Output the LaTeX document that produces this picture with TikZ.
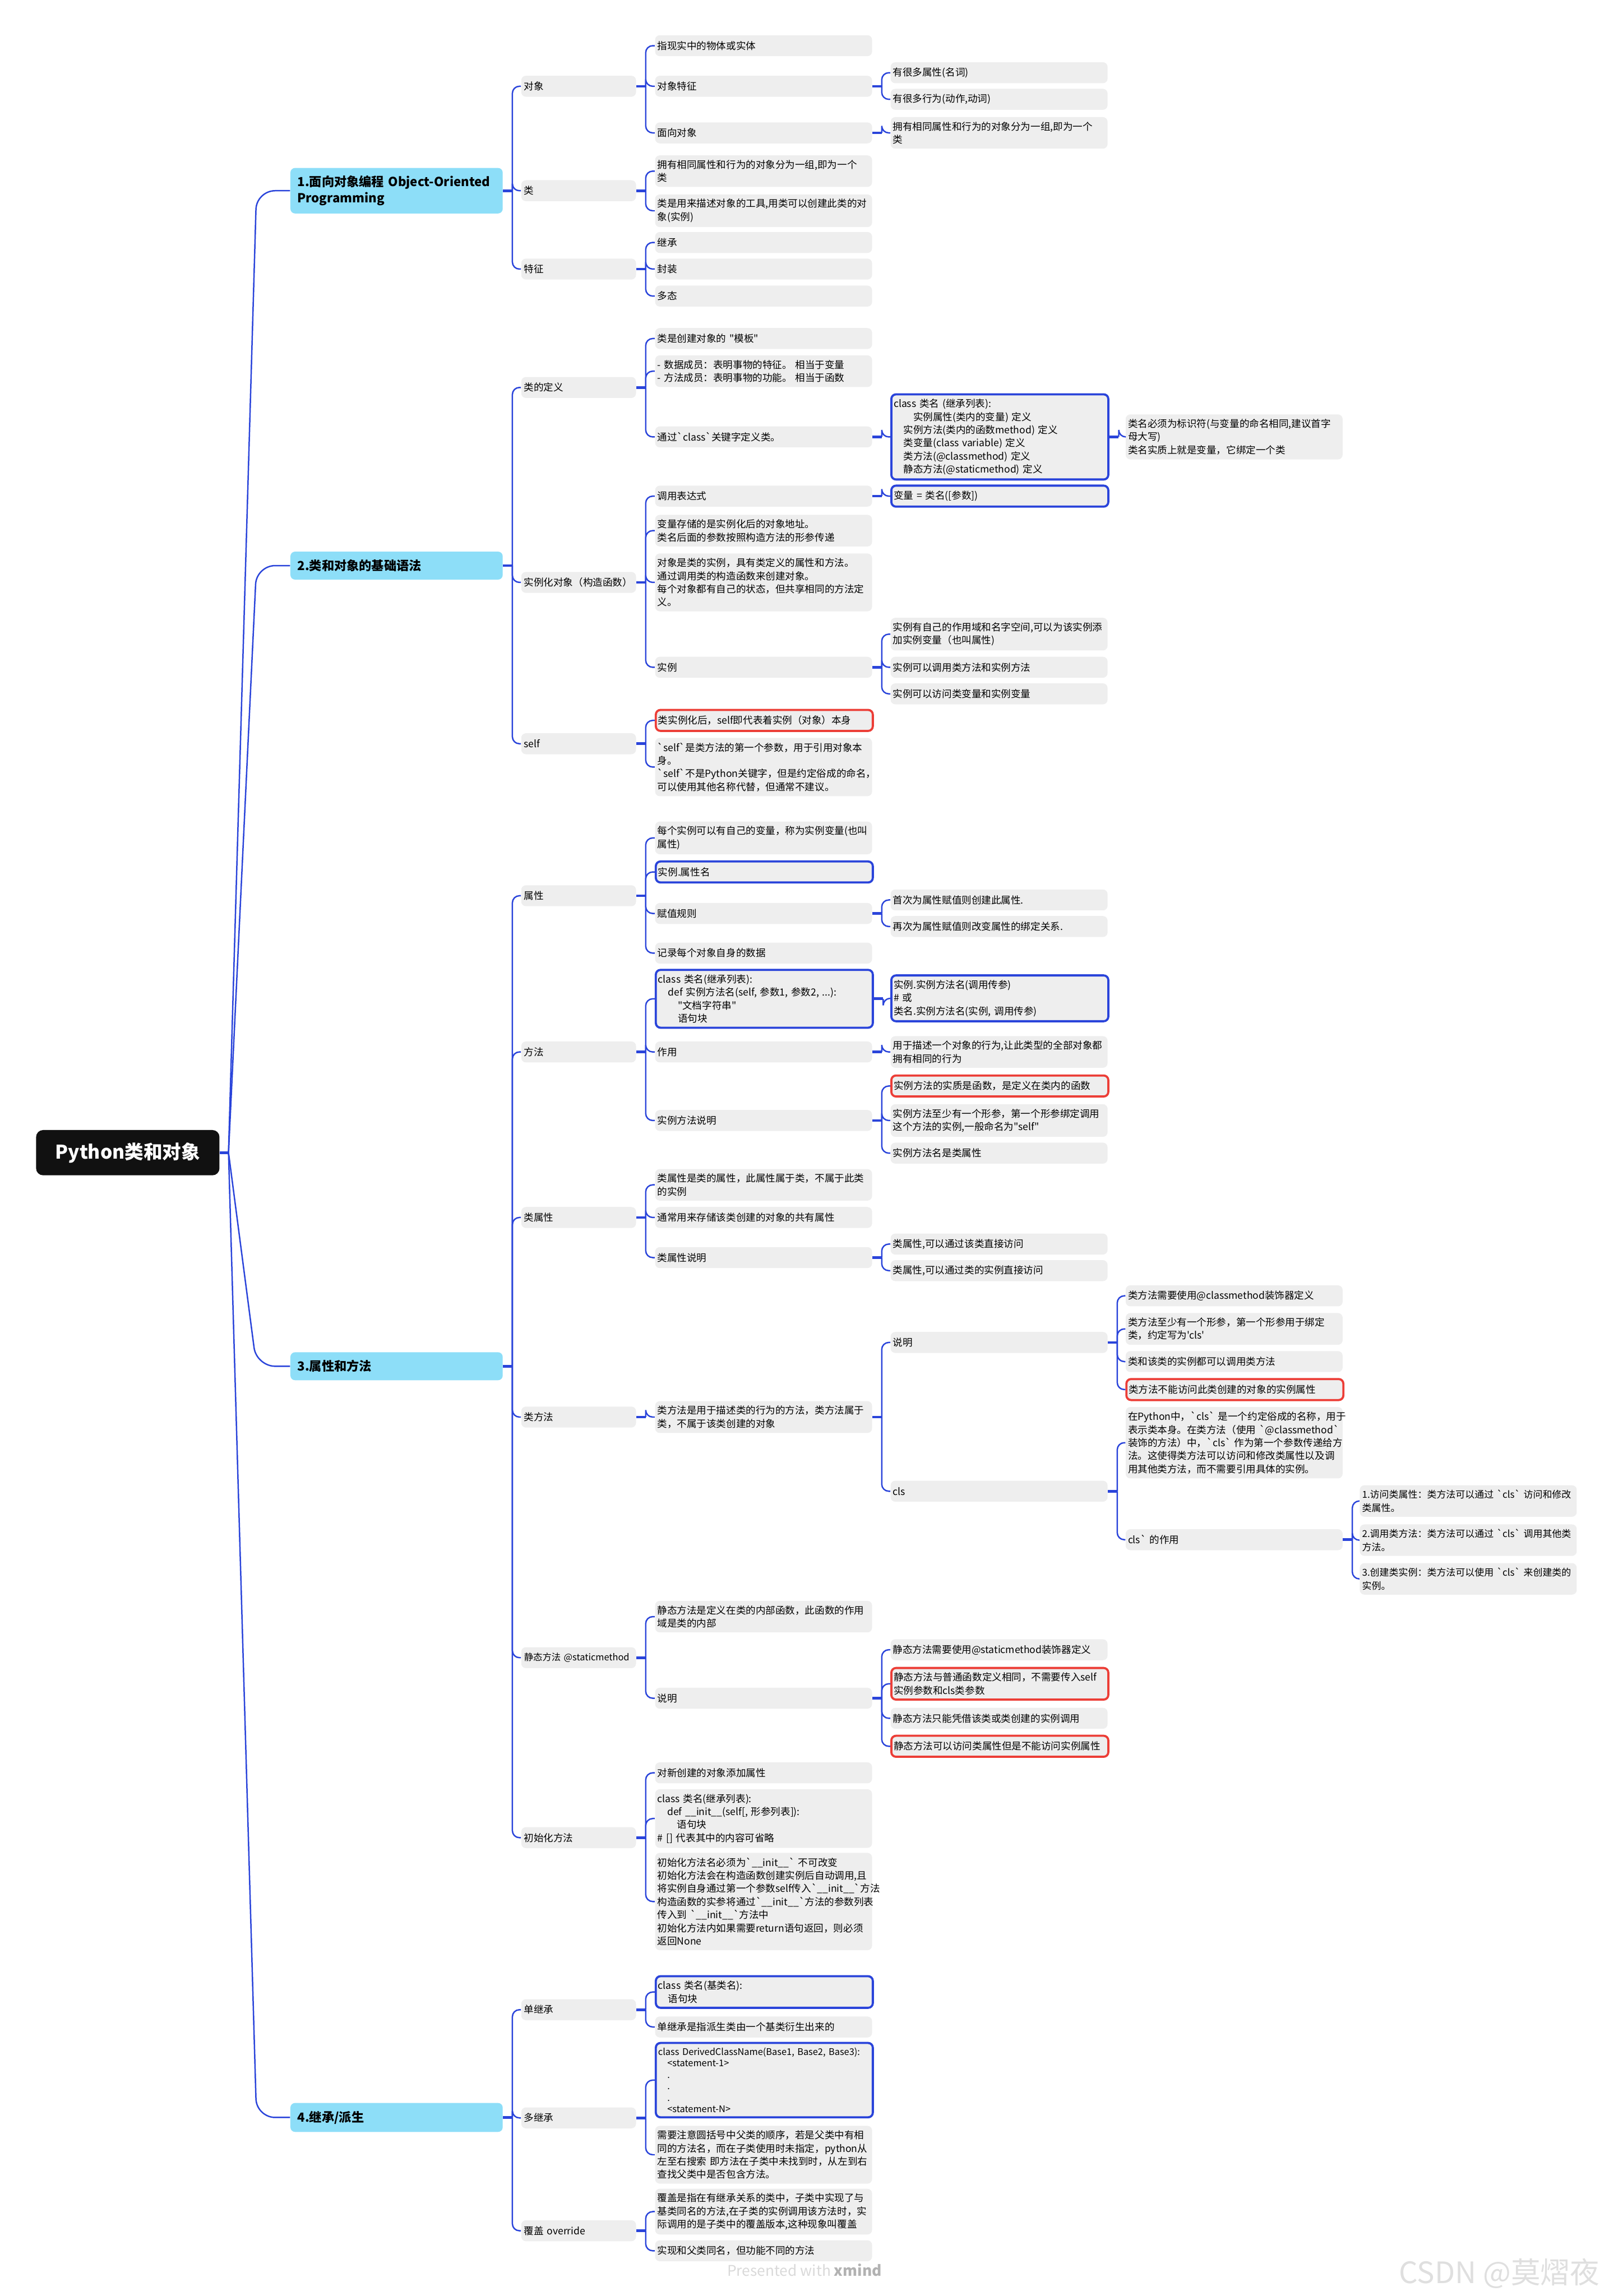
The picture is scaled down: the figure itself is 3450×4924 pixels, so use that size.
\documentclass[tikz,border=0pt]{standalone}
\usepackage{fontspec}
\setmainfont{Noto Sans CJK SC}[Ligatures=TeXOff]
\usepackage{tikz}
\definecolor{linkblue}{RGB}{42,68,218}
\definecolor{boxgray}{RGB}{238,238,238}
\definecolor{seccyan}{RGB}{141,222,248}
\definecolor{warnred}{RGB}{236,62,55}
\definecolor{rootblack}{RGB}{17,17,17}
\newcommand{\bq}{\symbol{96}}
\hyphenpenalty=10000
\exhyphenpenalty=10000

\begin{document}
\begin{tikzpicture}[x=0.01cm, y=-0.01cm,
    rootnode/.style={fill=rootblack, text=white, rounded corners=0.15cm, minimum width=3.93cm, minimum height=0.97cm, font=\fontsize{11.5}{13}\selectfont\bfseries},
    topic/.style={anchor=west, fill=seccyan, rounded corners=0.1cm, text width=4.25cm, inner xsep=0.15cm, inner ysep=0.17cm, minimum height=0.6cm, align=left, font=\fontsize{7.6}{9.7}\selectfont\bfseries},
    subtopic/.style={anchor=west, fill=boxgray, rounded corners=0.1cm, text width=2.34cm, inner xsep=0.06cm, inner ysep=0.1cm, minimum height=0.45cm, align=left, font=\fontsize{6}{8}\selectfont},
    leaf/.style={subtopic, text width=4.55cm, inner xsep=0.05cm},
    bluebox/.style={draw=linkblue, line width=1.3pt},
    redbox/.style={draw=warnred, line width=1.3pt},
    link/.style={draw=linkblue, line width=0.85pt, rounded corners=0.15cm},
    stub/.style={draw=linkblue, line width=1.6pt}
]
    \useasboundingbox (0,0) rectangle (3450,4924);

    \node[rootnode] (root) at (274,2472) {Python类和对象};
    \coordinate (rj) at (490,2472);
    \coordinate (rx) at (550,0);

    \node[topic] (s1) at (622,409) {1.面向对象编程~Object-Oriented\\Programming};
    \node[topic] (s2) at (622,1213) {2.类和对象的基础语法};
    \node[topic] (s3) at (622,2930) {3.属性和方法};
    \node[topic] (s4) at (622,4541) {4.继承/派生};

    % 1. object oriented
    \node[subtopic] (dx) at (1117,185) {对象};
    \node[subtopic] (lei) at (1117,409) {类};
    \node[subtopic] (tz) at (1117,577) {特征};
    \node[leaf] (dx1) at (1404,98) {指现实中的物体或实体};
    \node[leaf] (dx2) at (1404,185) {对象特征};
    \node[leaf] (dx3) at (1404,285) {面向对象};
    \node[leaf] (dx21) at (1909,156) {有很多属性(名词)};
    \node[leaf] (dx22) at (1909,213) {有很多行为(动作,动词)};
    \node[leaf] (dx31) at (1909,285) {拥有相同属性和行为的对象分为一组,即为一个\\类};
    \node[leaf] (lei1) at (1404,367) {拥有相同属性和行为的对象分为一组,即为一个\\类};
    \node[leaf] (lei2) at (1404,452) {类是用来描述对象的工具,用类可以创建此类的对\\象(实例)};
    \node[leaf] (tz1) at (1404,520) {继承};
    \node[leaf] (tz2) at (1404,577) {封装};
    \node[leaf] (tz3) at (1404,635) {多态};

    % 2. basic syntax
    \node[subtopic] (dy) at (1117,831) {类的定义};
    \node[subtopic] (sl) at (1117,1249) {实例化对象（构造函数）};
    \node[subtopic] (sf) at (1117,1595) {self};
    \node[leaf] (dy1) at (1404,726) {类是创建对象的 "模板"};
    \node[leaf] (dy2) at (1404,796) {-~数据成员：表明事物的特征。~相当于变量\\-~方法成员：表明事物的功能。~相当于函数};
    \node[leaf] (dy3) at (1404,937) {通过\bq class\bq 关键字定义类。};
    \node[leaf, bluebox] (dy31) at (1909,937) {class 类名 (继承列表):\\\hspace*{2em}实例属性(类内的变量) 定义\\\hspace*{1em}实例方法(类内的函数method) 定义\\\hspace*{1em}类变量(class variable) 定义\\\hspace*{1em}类方法(@classmethod) 定义\\\hspace*{1em}静态方法(@staticmethod) 定义};
    \node[leaf] (dy311) at (2413,937) {类名必须为标识符(与变量的命名相同,建议首字\\母大写)\\类名实质上就是变量，它绑定一个类};
    \node[leaf] (sl1) at (1404,1064) {调用表达式};
    \node[leaf, bluebox] (sl11) at (1909,1064) {变量 = 类名([参数])};
    \node[leaf] (sl2) at (1404,1138) {变量存储的是实例化后的对象地址。\\类名后面的参数按照构造方法的形参传递};
    \node[leaf] (sl3) at (1404,1249) {对象是类的实例，具有类定义的属性和方法。\\通过调用类的构造函数来创建对象。\\每个对象都有自己的状态，但共享相同的方法定\\义。};
    \node[leaf] (sl4) at (1404,1431) {实例};
    \node[leaf] (sl41) at (1909,1360) {实例有自己的作用域和名字空间,可以为该实例添\\加实例变量（也叫属性)};
    \node[leaf] (sl42) at (1909,1431) {实例可以调用类方法和实例方法};
    \node[leaf] (sl43) at (1909,1488) {实例可以访问类变量和实例变量};
    \node[leaf, redbox] (sf1) at (1404,1545) {类实例化后，self即代表着实例（对象）本身};
    \node[leaf] (sf2) at (1404,1645) {\bq self\bq 是类方法的第一个参数，用于引用对象本\\身。\\\bq self\bq 不是Python关键字，但是约定俗成的命名，\\可以使用其他名称代替，但通常不建议。};

    % 3. attributes and methods
    \node[subtopic] (sx) at (1117,1921) {属性};
    \node[subtopic] (ff) at (1117,2256) {方法};
    \node[subtopic] (lsx) at (1117,2611) {类属性};
    \node[subtopic] (lff) at (1117,3039) {类方法};
    \node[subtopic, font=\fontsize{5.6}{8}\selectfont] (jt) at (1117,3555) {\mbox{静态方法 @staticmethod}};
    \node[subtopic] (csh) at (1117,3941) {初始化方法};

    \node[leaf] (sx1) at (1404,1797) {每个实例可以有自己的变量，称为实例变量(也叫\\属性)};
    \node[leaf, bluebox] (sx2) at (1404,1870) {实例.属性名};
    \node[leaf] (sx3) at (1404,1959) {赋值规则};
    \node[leaf] (sx4) at (1404,2044) {记录每个对象自身的数据};
    \node[leaf] (sx31) at (1909,1930) {首次为属性赋值则创建此属性.};
    \node[leaf] (sx32) at (1909,1987) {再次为属性赋值则改变属性的绑定关系.};

    \node[leaf, bluebox] (ff1) at (1404,2142) {class 类名(继承列表):\\\hspace*{1em}def 实例方法名(self,~参数1,~参数2,~...):\\\hspace*{2em}"文档字符串"\\\hspace*{2em}语句块};
    \node[leaf] (ff2) at (1404,2256) {作用};
    \node[leaf] (ff3) at (1404,2403) {实例方法说明};
    \node[leaf, bluebox] (ff11) at (1909,2141) {实例.实例方法名(调用传参)\\\# 或\\类名.实例方法名(实例,~调用传参)};
    \node[leaf] (ff21) at (1909,2256) {用于描述一个对象的行为,让此类型的全部对象都\\拥有相同的行为};
    \node[leaf, redbox] (ff31) at (1909,2329) {实例方法的实质是函数，是定义在类内的函数};
    \node[leaf] (ff32) at (1909,2403) {实例方法至少有一个形参，第一个形参绑定调用\\这个方法的实例,一般命名为"self"};
    \node[leaf] (ff33) at (1909,2473) {实例方法名是类属性};

    \node[leaf] (lsx1) at (1404,2541) {类属性是类的属性，此属性属于类，不属于此类\\的实例};
    \node[leaf] (lsx2) at (1404,2611) {通常用来存储该类创建的对象的共有属性};
    \node[leaf] (lsx3) at (1404,2697) {类属性说明};
    \node[leaf] (lsx31) at (1909,2668) {类属性,可以通过该类直接访问};
    \node[leaf] (lsx32) at (1909,2725) {类属性,可以通过类的实例直接访问};

    \node[leaf] (lff1) at (1404,3039) {类方法是用于描述类的行为的方法，类方法属于\\类，不属于该类创建的对象};
    \node[leaf] (lff11) at (1909,2879) {说明};
    \node[leaf] (lff12) at (1909,3198) {cls};
    \node[leaf] (sm1) at (2413,2779) {类方法需要使用@classmethod装饰器定义};
    \node[leaf] (sm2) at (2413,2850) {类方法至少有一个形参，第一个形参用于绑定\\类，约定写为'cls'};
    \node[leaf] (sm3) at (2413,2920) {类和该类的实例都可以调用类方法};
    \node[leaf, redbox] (sm4) at (2413,2980) {类方法不能访问此类创建的对象的实例属性};
    \node[leaf] (cl1) at (2413,3094) {在Python中，\bq cls\bq~是一个约定俗成的名称，用于\\表示类本身。在类方法（使用~\bq @classmethod\bq\\装饰的方法）中，\bq cls\bq~作为第一个参数传递给方\\法。这使得类方法可以访问和修改类属性以及调\\用其他类方法，而不需要引用具体的实例。};
    \node[leaf] (cl2) at (2413,3302) {cls\bq{} 的作用};
    \node[leaf, font=\fontsize{5.8}{8}\selectfont] (cz1) at (2915,3219) {1.访问类属性：类方法可以通过~\bq cls\bq~访问和修改\\类属性。};
    \node[leaf, font=\fontsize{5.8}{8}\selectfont] (cz2) at (2915,3303) {2.调用类方法：类方法可以通过~\bq cls\bq~调用其他类\\方法。};
    \node[leaf, font=\fontsize{5.8}{8}\selectfont] (cz3) at (2915,3386) {3.创建类实例：类方法可以使用~\bq cls\bq~来创建类的\\实例。};

    \node[leaf] (jt1) at (1404,3467) {静态方法是定义在类的内部函数，此函数的作用\\域是类的内部};
    \node[leaf] (jt2) at (1404,3642) {说明};
    \node[leaf] (jt21) at (1909,3538) {静态方法需要使用@staticmethod装饰器定义};
    \node[leaf, redbox] (jt22) at (1909,3611) {静态方法与普通函数定义相同，不需要传入self\\实例参数和cls类参数};
    \node[leaf] (jt23) at (1909,3685) {静态方法只能凭借该类或类创建的实例调用};
    \node[leaf, redbox] (jt24) at (1909,3745) {静态方法可以访问类属性但是不能访问实例属性};

    \node[leaf] (csh1) at (1404,3802) {对新创建的对象添加属性};
    \node[leaf] (csh2) at (1404,3900) {class 类名(继承列表):\\\hspace*{1em}def~\_\_init\_\_(self[,~形参列表]):\\\hspace*{2em}语句块\\\#~[]~代表其中的内容可省略};
    \node[leaf] (csh3) at (1404,4078) {初始化方法名必须为\bq\_\_init\_\_\bq~不可改变\\初始化方法会在构造函数创建实例后自动调用,且\\将实例自身通过第一个参数self传入\bq\_\_init\_\_\bq 方法\\构造函数的实参将通过\bq\_\_init\_\_\bq 方法的参数列表\\传入到~\bq\_\_init\_\_\bq 方法中\\初始化方法内如果需要return语句返回，则必须\\返回None};

    % 4. inheritance
    \node[subtopic] (dj) at (1117,4310) {单继承};
    \node[subtopic] (duo) at (1117,4542) {多继承};
    \node[subtopic] (fg) at (1117,4784) {覆盖 override};
    \node[leaf, bluebox] (dj1) at (1404,4272) {class 类名(基类名):\\\hspace*{1em}语句块};
    \node[leaf] (dj2) at (1404,4347) {单继承是指派生类由一个基类衍生出来的};
    \node[leaf, bluebox, font=\fontsize{5.6}{7}\selectfont] (duo1) at (1404,4461) {\mbox{class DerivedClassName(Base1, Base2, Base3):}\\\hspace*{1em}<statement-1>\\\hspace*{1em}.\\\hspace*{1em}.\\\hspace*{1em}.\\\hspace*{1em}<statement-N>};
    \node[leaf] (duo2) at (1404,4621) {需要注意圆括号中父类的顺序，若是父类中有相\\同的方法名，而在子类使用时未指定，python从\\左至右搜索~即方法在子类中未找到时，从左到右\\查找父类中是否包含方法。};
    \node[leaf] (fg1) at (1404,4743) {覆盖是指在有继承关系的类中，子类中实现了与\\基类同名的方法,在子类的实例调用该方法时，实\\际调用的是子类中的覆盖版本,这种现象叫覆盖};
    \node[leaf] (fg2) at (1404,4827) {实现和父类同名，但功能不同的方法};

    \node[font=\fontsize{9}{10}\selectfont, text=gray!30] (credit) at (1725,4868) {Presented with {\color{gray!60}\bfseries xmind}};
    \node[font=\fontsize{18}{20}\selectfont, text=gray!25] (wmark) at (3215,4875) {CSDN @莫熠夜};

    % connectors
    \draw[stub] (root.east) -- (rj);
    \foreach \s in {s1,s2,s3,s4}
        \draw[link, rounded corners=0.4cm] (rj) -- (rx |- \s.west) -- (\s.west);

    \foreach \p/\kids in {s1/{dx,lei,tz}, dx/{dx1,dx2,dx3}, dx2/{dx21,dx22}, dx3/{dx31}, lei/{lei1,lei2}, tz/{tz1,tz2,tz3},
        s2/{dy,sl,sf}, dy/{dy1,dy2,dy3}, dy3/{dy31}, dy31/{dy311}, sl/{sl1,sl2,sl3,sl4}, sl1/{sl11}, sl4/{sl41,sl42,sl43}, sf/{sf1,sf2},
        s3/{sx,ff,lsx,lff,jt,csh}, sx/{sx1,sx2,sx3,sx4}, sx3/{sx31,sx32}, ff/{ff1,ff2,ff3}, ff1/{ff11}, ff2/{ff21}, ff3/{ff31,ff32,ff33},
        lsx/{lsx1,lsx2,lsx3}, lsx3/{lsx31,lsx32}, lff/{lff1}, lff1/{lff11,lff12}, lff11/{sm1,sm2,sm3,sm4}, lff12/{cl1,cl2}, cl2/{cz1,cz2,cz3},
        jt/{jt1,jt2}, jt2/{jt21,jt22,jt23,jt24}, csh/{csh1,csh2,csh3},
        s4/{dj,duo,fg}, dj/{dj1,dj2}, duo/{duo1,duo2}, fg/{fg1,fg2}} {
        \draw[stub] (\p.east) -- ++(20,0);
        \foreach \k in \kids
            \draw[link] ([xshift=0.2cm]\p.east) |- (\k.west);
    }
\end{tikzpicture}
\end{document}
